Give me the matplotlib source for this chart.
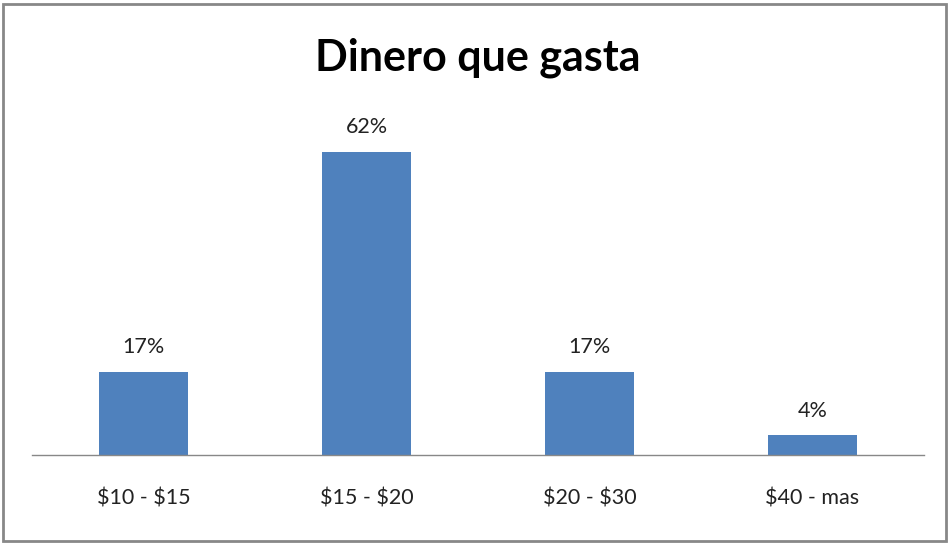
import matplotlib.pyplot as plt
from matplotlib.patches import Rectangle

categories = [r"\$10 - \$15", r"\$15 - \$20", r"\$20 - \$30", r"\$40 - mas"]
values = [17, 62, 17, 4]
labels = ["17%", "62%", "17%", "4%"]

plt.rcParams['font.family'] = ['Lato', 'DejaVu Sans']

fig = plt.figure(figsize=(9.51, 5.43), dpi=100)
ax = fig.add_axes([32 / 951, 88 / 543, 892 / 951, 342 / 543])

x = range(len(categories))
ax.bar(x, values, width=0.4, color='#4F81BD')
for xi, v, lab in zip(x, values, labels):
    ax.text(xi, v + 3, lab, ha='center', va='bottom', fontsize=15.5, color='#222222')

ax.set_xlim(-0.5, len(categories) - 0.5)
ax.set_ylim(0, 70)
ax.set_xticks(list(x))
ax.set_xticklabels(categories, fontsize=15.5, color='#222222')
ax.tick_params(axis='x', length=0, pad=24)
ax.set_yticks([])
for s in ['top', 'right', 'left']:
    ax.spines[s].set_visible(False)
ax.spines['bottom'].set_color('#888888')
ax.spines['bottom'].set_linewidth(1)

fig.text(478 / 951, 1 - 58 / 543, "Dinero que gasta", ha='center', va='center',
         fontsize=31, fontweight='bold', color='black')

# chart border
fig.patches.append(Rectangle((3 / 951, 2 / 543), 943 / 951, 537 / 543, transform=fig.transFigure,
                             fill=False, edgecolor='#888888', linewidth=2))

fig.savefig("out.png", dpi=100, facecolor='white')
